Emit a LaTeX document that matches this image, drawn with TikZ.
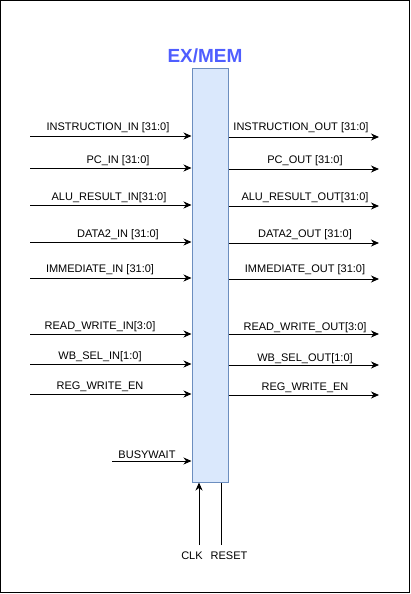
\documentclass[tikz,border=0pt]{standalone}
\usepackage{fontspec}
\setmainfont{Liberation Sans}
\usetikzlibrary{arrows.meta}
\definecolor{regfill}{HTML}{DAE8FC}
\definecolor{regline}{HTML}{6C8EBF}
\definecolor{titleblue}{HTML}{4F5EFF}
\tikzset{
  sig/.style={font=\fontsize{11}{13}\selectfont, inner sep=0pt},
  wire/.style={line width=1pt, -{Stealth[length=8pt,width=7pt,inset=2.5pt]}},
}

\begin{document}
\begin{tikzpicture}[x=1pt,y=-1pt]
			%%%%% START %%%%%
			\useasboundingbox (0,0) rectangle (411,594);
			\draw[line width=1pt] (0.5,0.5) rectangle (409.5,592.3);
			
			\node[draw=regline, fill=regfill, line width=1pt, minimum width=36pt, minimum height=413pt, inner sep=0pt] (exmem) at (210,275.5) {};
			\node[font=\fontsize{19}{22}\selectfont\bfseries, text=titleblue] (title) at (205,56) {EX/MEM};
			
			%% inputs
			\coordinate (instin) at (30,136);
			\draw[wire] (instin) -- (instin -| exmem.west);
			\node[sig] (instinlbl) at (108,127.5) {INSTRUCTION\_IN [31:0]};
			
			\coordinate (pcin) at (30,168);
			\draw[wire] (pcin) -- (pcin -| exmem.west);
			\node[sig] (pcinlbl) at (118,160.5) {PC\_IN [31:0]};
			
			\coordinate (aluin) at (30,205);
			\draw[wire] (aluin) -- (aluin -| exmem.west);
			\node[sig] (aluinlbl) at (109,197.5) {ALU\_RESULT\_IN[31:0]};
			
			\coordinate (data2in) at (30,242);
			\draw[wire] (data2in) -- (data2in -| exmem.west);
			\node[sig] (data2inlbl) at (118,234.5) {DATA2\_IN [31:0]};
			
			\coordinate (immin) at (30,278);
			\draw[wire] (immin) -- (immin -| exmem.west);
			\node[sig] (imminlbl) at (100,269.5) {IMMEDIATE\_IN [31:0]};
			
			\coordinate (rwin) at (30,334);
			\draw[wire] (rwin) -- (rwin -| exmem.west);
			\node[sig] (rwinlbl) at (100,327) {READ\_WRITE\_IN[3:0]};
			
			\coordinate (wbin) at (30,364);
			\draw[wire] (wbin) -- (wbin -| exmem.west);
			\node[sig] (wbinlbl) at (100,357) {WB\_SEL\_IN[1:0]};
			
			\coordinate (regwin) at (30,394);
			\draw[wire] (regwin) -- (regwin -| exmem.west);
			\node[sig] (regwinlbl) at (100,387) {REG\_WRITE\_EN};
			
			\coordinate (busy) at (112,461);
			\draw[wire] (busy) -- (busy -| exmem.west);
			\node[sig] (busylbl) at (147,455) {BUSYWAIT};
			
			%% outputs
			\coordinate (instout) at (379,137);
			\draw[wire] (instout -| exmem.east) -- (instout);
			\node[sig] (instoutlbl) at (301,128) {INSTRUCTION\_OUT [31:0]};
			
			\coordinate (pcout) at (379,169);
			\draw[wire] (pcout -| exmem.east) -- (pcout);
			\node[sig] (pcoutlbl) at (305,161) {PC\_OUT [31:0]};
			
			\coordinate (aluout) at (379,206);
			\draw[wire] (aluout -| exmem.east) -- (aluout);
			\node[sig] (aluoutlbl) at (305,197.5) {ALU\_RESULT\_OUT[31:0]};
			
			\coordinate (data2out) at (379,243);
			\draw[wire] (data2out -| exmem.east) -- (data2out);
			\node[sig] (data2outlbl) at (305,234.5) {DATA2\_OUT [31:0]};
			
			\coordinate (immout) at (379,279);
			\draw[wire] (immout -| exmem.east) -- (immout);
			\node[sig] (immoutlbl) at (305,269.5) {IMMEDIATE\_OUT [31:0]};
			
			\coordinate (rwout) at (379,334);
			\draw[wire] (rwout -| exmem.east) -- (rwout);
			\node[sig] (rwoutlbl) at (305,328) {READ\_WRITE\_OUT[3:0]};
			
			\coordinate (wbout) at (379,365);
			\draw[wire] (wbout -| exmem.east) -- (wbout);
			\node[sig] (wboutlbl) at (305,359) {WB\_SEL\_OUT[1:0]};
			
			\coordinate (regwout) at (379,395);
			\draw[wire] (regwout -| exmem.east) -- (regwout);
			\node[sig] (regwoutlbl) at (305,388) {REG\_WRITE\_EN};
			
			%% clock and reset
			\coordinate (clk) at (199,545);
			\draw[wire] (clk) -- (clk |- exmem.south);
			\node[sig] (clklbl) at (192,556) {CLK};
			
			\coordinate (rst) at (221,545);
			\draw[line width=1pt] (rst) -- (rst |- exmem.south);
			\node[sig] (rstlbl) at (229,556) {RESET};
			%%%%% END %%%%%
\end{tikzpicture}
\end{document}
